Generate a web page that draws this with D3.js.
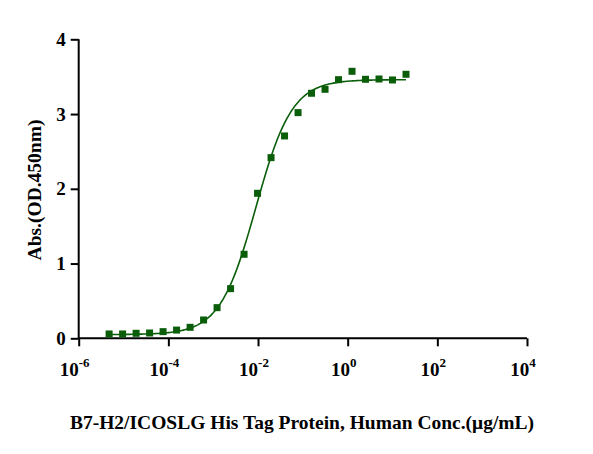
<!DOCTYPE html>
<html><head><meta charset="utf-8">
<script src="https://cdn.jsdelivr.net/npm/d3@7"></script>
<style>body{margin:0;background:#fff}text{font-family:"Liberation Serif","Times New Roman",serif;font-weight:bold}</style>
</head><body><svg id="c" width="593" height="454"></svg>
<script>
const topConc = 20;
const concs = d3.range(23).map(i => topConc / Math.pow(2, 22 - i));
const absValues = [0.058,0.058,0.067,0.071,0.089,0.11,0.147,0.245,0.41,0.664,1.124,1.94,2.417,2.707,3.019,3.278,3.331,3.46,3.572,3.465,3.469,3.456,3.532];
const xTickExps = [-6,-4,-2,0,2,4];
const yTicks = [0,1,2,3,4];
const fit = {bottom:0.05, top:3.46, ec50:0.009, hill:1.08};

const svg = d3.select("#c");
const x = d3.scaleLog().domain([1e-6,1e4]).range([78.7,527]);
const y = d3.scaleLinear().domain([0,4]).range([338.3,39.3]);

const xa = svg.append("g").attr("transform","translate(0,338.3)")
  .call(d3.axisBottom(x).tickValues(xTickExps.map(e=>Math.pow(10,e))).tickSize(8).tickFormat(""));
const ya = svg.append("g").attr("transform","translate(78.7,0)")
  .call(d3.axisLeft(y).tickValues(yTicks).tickSize(8).tickFormat(d3.format("d")));
[xa,ya].forEach(a=>{a.selectAll("path,line").attr("stroke","#000").attr("stroke-width",2);});
xa.select(".domain").attr("d","M78.7,0H527");
ya.select(".domain").attr("d","M0,338.3V39.3");
ya.selectAll("text").attr("font-size",19).attr("x",-13).attr("fill","#000");

xTickExps.forEach(e=>{
  const t = svg.append("text").attr("x",x(Math.pow(10,e))-4).attr("y",376).attr("text-anchor","middle").attr("font-size",19);
  t.append("tspan").text("10");
  t.append("tspan").attr("dy",-9).attr("font-size",13).text(e<0?"-"+(-e):String(e));
});

const curve = d3.range(0,201).map(i=>{
  const lx = Math.log10(concs[0]) + i/200*(Math.log10(concs[22])-Math.log10(concs[0]));
  const c = Math.pow(10,lx);
  return [c, fit.bottom + (fit.top-fit.bottom)/(1+Math.pow(fit.ec50/c, fit.hill))];
});
svg.append("path").datum(curve).attr("fill","none").attr("stroke","#0a5e0a").attr("stroke-width",1.6)
  .attr("d", d3.line().x(d=>x(d[0])).y(d=>y(d[1])));

svg.selectAll("rect.pt").data(concs).enter().append("rect").attr("class","pt")
  .attr("x",(d)=>x(d)-3.5).attr("y",(d,i)=>y(absValues[i])-3.5).attr("width",7).attr("height",7).attr("fill","#0a5e0a");

svg.append("text").attr("x",302).attr("y",429).attr("text-anchor","middle").attr("font-size",19.5)
  .text("B7-H2/ICOSLG His Tag Protein, Human Conc.(μg/mL)");
svg.append("text").attr("transform","translate(41,190) rotate(-90)").attr("text-anchor","middle").attr("font-size",19.5)
  .text("Abs.(OD.450nm)");
</script></body></html>
